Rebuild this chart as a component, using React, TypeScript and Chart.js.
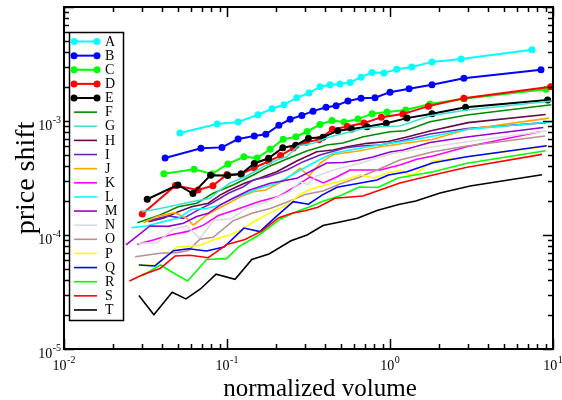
import React, { useEffect, useRef } from "react";
import { Chart, registerables } from "chart.js";
Chart.register(...registerables);

const NAMES = ["A","B","C","D","E","F","G","H","I","J","K","L","M","N","O","P","Q","R","S","T"];
const COLORS = ["#00ffff","#0000ff","#00ff00","#ff0000","#000000","#008b00","#40e0d0","#670748","#7221bc","#ffa500","#ff00ff","#00ffff","#9400d3","#dcdcdc","#bc8f8f","#ffff00","#0000ff","#00ff00","#ff0000","#000000"];
const WITH_MARKERS = [true,true,true,true,true,false,false,false,false,false,false,false,false,false,false,false,false,false,false,false];

const X_TICK_LABELS = [{ v: 0.01, e: "-2" }, { v: 0.1, e: "-1" }, { v: 1, e: "0" }, { v: 10, e: "1" }];
const Y_TICK_LABELS = [{ v: 1e-5, e: "-5" }, { v: 1e-4, e: "-4" }, { v: 1e-3, e: "-3" }];

const A_X = [0.0515,0.0869,0.117,0.155,0.189,0.224,0.268,0.318,0.372,0.429,0.493,0.569,0.664,0.776,0.918,1.10,1.36,1.81,2.73,7.43];
const A_Y = [7.85e-4,9.4e-4,9.8e-4,1.135e-3,1.28e-3,1.39e-3,1.60e-3,1.76e-3,2.00e-3,2.08e-3,2.11e-3,2.18e-3,2.42e-3,2.67e-3,2.64e-3,2.85e-3,2.98e-3,3.30e-3,3.50e-3,4.22e-3];
const B_X = [0.0417,0.0692,0.0931,0.117,0.147,0.173,0.208,0.244,0.288,0.337,0.405,0.467,0.552,0.664,0.809,1.0,1.31,1.81,2.84,8.44];
const B_Y = [4.73e-4,5.77e-4,5.87e-4,6.95e-4,7.38e-4,7.64e-4,9.16e-4,1.035e-3,1.12e-3,1.22e-3,1.32e-3,1.36e-3,1.50e-3,1.58e-3,1.60e-3,1.79e-3,1.92e-3,2.08e-3,2.37e-3,2.82e-3];
const C_X = [0.0410,0.0628,0.0809,0.1014,0.127,0.153,0.184,0.221,0.265,0.310,0.372,0.441,0.522,0.637,0.776,0.960,1.25,1.76,2.84,9.06];
const C_Y = [3.45e-4,3.77e-4,3.43e-4,4.20e-4,4.86e-4,4.73e-4,5.65e-4,6.90e-4,7.28e-4,8.09e-4,9.31e-4,1.01e-3,9.8e-4,1.04e-3,1.16e-3,1.20e-3,1.25e-3,1.41e-3,1.57e-3,1.90e-3];
const D_X = [0.0302,0.0483,0.0664,0.0820,0.100,0.122,0.147,0.180,0.213,0.255,0.305,0.366,0.443,0.547,0.692,0.885,1.20,1.72,2.84,9.68];
const D_Y = [1.53e-4,2.72e-4,2.48e-4,2.71e-4,3.40e-4,3.43e-4,3.89e-4,4.43e-4,4.97e-4,5.79e-4,6.50e-4,6.86e-4,8.45e-4,8.95e-4,9.59e-4,1.08e-3,1.15e-3,1.35e-3,1.58e-3,2.00e-3];
const E_X = [0.0324,0.0500,0.0618,0.0793,0.101,0.122,0.147,0.180,0.220,0.264,0.316,0.388,0.478,0.582,0.723,0.948,1.27,1.81,2.91,9.27];
const E_Y = [2.06e-4,2.75e-4,2.31e-4,3.35e-4,3.33e-4,3.43e-4,4.24e-4,4.71e-4,5.83e-4,6.12e-4,7.05e-4,7.20e-4,8.22e-4,8.51e-4,8.91e-4,9.55e-4,1.06e-3,1.16e-3,1.32e-3,1.53e-3];
const F_X = [0.0282,0.0388,0.0502,0.0652,0.0822,0.109,0.145,0.179,0.233,0.308,0.409,0.515,0.686,1.0,1.24,1.76,2.96,9.77];
const F_Y = [1.28e-4,1.50e-4,1.77e-4,1.90e-4,2.32e-4,2.75e-4,3.36e-4,3.97e-4,4.64e-4,5.46e-4,6.16e-4,6.41e-4,7.28e-4,8.05e-4,8.22e-4,9.86e-4,1.13e-3,1.39e-3];
const G_X = [0.0300,0.0388,0.0491,0.0607,0.0787,0.0906,0.104,0.132,0.167,0.202,0.233,0.273,0.338,0.429,0.569,0.703,0.869,1.15,1.76,2.96,9.91];
const G_Y = [1.60e-4,1.71e-4,1.83e-4,1.96e-4,2.10e-4,2.48e-4,2.84e-4,3.29e-4,3.97e-4,4.55e-4,4.86e-4,6.04e-4,6.37e-4,7.28e-4,8.05e-4,8.63e-4,8.91e-4,9.04e-4,1.11e-3,1.25e-3,1.50e-3];
const H_X = [0.0329,0.0406,0.0502,0.0607,0.0767,0.0906,0.104,0.129,0.159,0.202,0.268,0.355,0.447,0.545,0.723,0.972,1.27,1.76,3.01,9.02];
const H_Y = [1.31e-4,1.40e-4,1.60e-4,1.77e-4,1.90e-4,2.24e-4,2.48e-4,2.86e-4,3.16e-4,3.59e-4,4.46e-4,5.38e-4,5.57e-4,5.95e-4,6.37e-4,6.61e-4,7.24e-4,8.17e-4,9.67e-4,1.14e-3];
const I_X = [0.0329,0.0437,0.0540,0.0667,0.0805,0.102,0.126,0.145,0.179,0.233,0.294,0.372,0.530,0.655,0.869,1.15,1.76,2.98,9.02];
const I_Y = [1.33e-4,1.47e-4,1.40e-4,1.66e-4,1.90e-4,2.32e-4,2.65e-4,3.04e-4,3.25e-4,3.72e-4,4.40e-4,5.03e-4,5.79e-4,6.04e-4,6.16e-4,6.68e-4,7.69e-4,8.60e-4,9.67e-4];
const J_X = [0.0307,0.0371,0.0480,0.0566,0.0621,0.0749,0.0973,0.120,0.145,0.173,0.227,0.281,0.318,0.372,0.447,0.655,0.869,1.15,1.81,2.96,9.45];
const J_Y = [1.28e-4,1.45e-4,1.57e-4,1.40e-4,1.22e-4,1.50e-4,1.83e-4,2.15e-4,2.40e-4,2.48e-4,3.04e-4,3.85e-4,3.29e-4,4.26e-4,5.08e-4,5.49e-4,5.95e-4,6.28e-4,6.89e-4,8.42e-4,1.06e-3];
const K_X = [0.0281,0.0353,0.0447,0.0566,0.0716,0.0885,0.112,0.156,0.206,0.261,0.323,0.390,0.471,0.569,0.869,1.15,1.46,1.84,2.96,8.32];
const K_Y = [8.29e-5,9.04e-5,1.0e-4,1.07e-4,1.22e-4,1.48e-4,1.66e-4,1.96e-4,2.17e-4,2.64e-4,3.23e-4,2.86e-4,3.23e-4,3.72e-4,3.72e-4,4.11e-4,4.61e-4,4.93e-4,5.95e-4,8.05e-4];
const L_X = [0.0260,0.0321,0.0406,0.0502,0.0607,0.0749,0.0906,0.109,0.132,0.159,0.206,0.268,0.372,0.448,0.719,1.0,1.27,1.76,2.96,9.91];
const L_Y = [1.16e-4,1.20e-4,1.31e-4,1.40e-4,1.68e-4,1.71e-4,1.83e-4,2.10e-4,2.32e-4,2.57e-4,2.86e-4,3.57e-4,4.59e-4,5.21e-4,5.91e-4,6.37e-4,6.68e-4,7.28e-4,8.42e-4,9.86e-4];
const M_X = [0.0240,0.0337,0.0435,0.0540,0.0652,0.0767,0.0906,0.109,0.138,0.184,0.268,0.338,0.409,0.515,0.628,0.787,1.0,1.21,1.76,2.96,8.72];
const M_Y = [8.18e-5,1.20e-4,1.19e-4,1.27e-4,1.45e-4,1.55e-4,1.83e-4,2.10e-4,2.48e-4,2.84e-4,3.14e-4,3.72e-4,4.28e-4,4.33e-4,4.50e-4,4.83e-4,5.35e-4,5.57e-4,6.48e-4,7.24e-4,8.77e-4];
const N_X = [0.0284,0.0371,0.0473,0.0566,0.0682,0.0832,0.106,0.132,0.175,0.244,0.281,0.313,0.355,0.460,0.655,1.05,1.84,2.96,9.15];
const N_Y = [8.46e-5,8.56e-5,1.13e-4,1.20e-4,9.35e-5,1.35e-4,1.39e-4,1.71e-4,1.96e-4,2.40e-4,2.92e-4,2.77e-4,3.29e-4,3.76e-4,4.26e-4,5.21e-4,5.95e-4,6.58e-4,8.17e-4];
const O_X = [0.0273,0.0388,0.0491,0.058,0.0682,0.0822,0.109,0.142,0.184,0.233,0.301,0.388,0.493,0.655,0.832,1.15,1.84,2.97,8.94];
const O_Y = [6.45e-5,6.91e-5,7.0e-5,7.31e-5,9.17e-5,9.55e-5,1.33e-4,1.55e-4,1.71e-4,1.94e-4,2.27e-4,2.43e-4,2.80e-4,3.23e-4,3.72e-4,4.55e-4,5.38e-4,6.04e-4,7.38e-4];
const P_X = [0.0284,0.0361,0.0493,0.0682,0.0820,0.104,0.122,0.145,0.179,0.233,0.281,0.338,0.550,0.655,0.798,0.977,1.16,1.36,1.84,2.93,9.06];
const P_Y = [5.51e-5,5.40e-5,7.85e-5,8.09e-5,9.04e-5,1.0e-4,1.11e-4,1.30e-4,1.54e-4,1.83e-4,2.28e-4,2.57e-4,3.08e-4,3.36e-4,3.16e-4,3.53e-4,3.67e-4,3.31e-4,4.46e-4,4.83e-4,5.97e-4];
const Q_X = [0.0288,0.0361,0.0469,0.0580,0.0749,0.0959,0.127,0.159,0.200,0.255,0.316,0.383,0.473,0.646,0.832,0.977,1.27,1.84,2.96,9.15];
const Q_Y = [5.46e-5,5.35e-5,7.28e-5,7.58e-5,7.24e-5,7.85e-5,1.15e-4,1.07e-4,1.45e-4,1.96e-4,1.86e-4,2.24e-4,2.62e-4,2.84e-4,3.04e-4,3.36e-4,3.59e-4,4.31e-4,4.86e-4,6.07e-4];
const R_X = [0.0300,0.0391,0.0467,0.0573,0.0749,0.0993,0.119,0.157,0.214,0.273,0.323,0.383,0.500,0.646,0.843,1.12,1.84,2.97,9.02];
const R_Y = [4.37e-5,5.46e-5,4.67e-5,3.95e-5,6.10e-5,6.20e-5,7.96e-5,1.0e-4,1.39e-4,1.62e-4,1.77e-4,1.97e-4,2.22e-4,2.64e-4,2.61e-4,3.16e-4,3.59e-4,4.26e-4,5.49e-4];
const S_X = [0.0252,0.0306,0.0388,0.0480,0.0593,0.0767,0.100,0.129,0.163,0.208,0.254,0.301,0.361,0.460,0.682,0.869,1.15,1.84,2.97,8.57];
const S_Y = [3.95e-5,4.50e-5,5.08e-5,6.54e-5,6.64e-5,6.32e-5,8.26e-5,9.13e-5,1.08e-4,1.42e-4,1.56e-4,1.63e-4,1.75e-4,2.10e-4,2.20e-4,2.48e-4,2.86e-4,3.36e-4,3.93e-4,5.10e-4];
const T_X = [0.0288,0.0356,0.0461,0.0560,0.0687,0.0857,0.112,0.142,0.181,0.247,0.310,0.388,0.493,0.632,0.832,1.13,1.44,2.03,3.10,8.57];
const T_Y = [2.94e-5,2.0e-5,3.14e-5,2.75e-5,3.36e-5,4.53e-5,4.09e-5,6.10e-5,6.81e-5,8.9e-5,1.0e-4,1.21e-4,1.30e-4,1.40e-4,1.64e-4,1.85e-4,1.99e-4,2.34e-4,2.69e-4,3.38e-4];

const SERIES_X = [A_X,B_X,C_X,D_X,E_X,F_X,G_X,H_X,I_X,J_X,K_X,L_X,M_X,N_X,O_X,P_X,Q_X,R_X,S_X,T_X];
const SERIES_Y = [A_Y,B_Y,C_Y,D_Y,E_Y,F_Y,G_Y,H_Y,I_Y,J_Y,K_Y,L_Y,M_Y,N_Y,O_Y,P_Y,Q_Y,R_Y,S_Y,T_Y];

const FONT = "'Liberation Serif', 'Times New Roman', serif";

const decorPlugin = {
  id: "decor",
  afterDatasetsDraw(chart: any) {
    const ctx = chart.ctx as CanvasRenderingContext2D;
    const xs = chart.scales.x;
    const ys = chart.scales.y;
    const { left, right, top, bottom } = chart.chartArea;
    ctx.save();
    // ticks
    ctx.strokeStyle = "#000";
    ctx.lineWidth = 1.5;
    ctx.beginPath();
    for (let d = -2; d <= 1; d++) {
      for (let m = 1; m <= 9; m++) {
        const v = m * Math.pow(10, d);
        if (v < 0.01 - 1e-12 || v > 10 + 1e-9) continue;
        const px = Math.round(xs.getPixelForValue(v)) + 0.5;
        const len = m === 1 ? 10 : 5;
        ctx.moveTo(px, bottom); ctx.lineTo(px, bottom - len);
        ctx.moveTo(px, top); ctx.lineTo(px, top + len);
      }
    }
    for (let d = -5; d <= -2; d++) {
      for (let m = 1; m <= 9; m++) {
        const v = m * Math.pow(10, d);
        if (v > 1e-2 * 1.0001) continue;
        const py = Math.round(ys.getPixelForValue(v)) + 0.5;
        const len = m === 1 ? 10 : 5;
        ctx.moveTo(left, py); ctx.lineTo(left + len, py);
        ctx.moveTo(right, py); ctx.lineTo(right - len, py);
      }
    }
    ctx.stroke();
    // frame
    ctx.lineWidth = 2;
    ctx.strokeRect(left, top, right - left, bottom - top);

    // tick labels
    ctx.fillStyle = "#000";
    ctx.textBaseline = "alphabetic";
    const drawPow = (xRight: number | null, xCenter: number | null, base: number, e: string) => {
      ctx.font = `14px ${FONT}`;
      const w1 = ctx.measureText("10").width;
      ctx.font = `10px ${FONT}`;
      const w2 = ctx.measureText(e).width;
      const total = w1 + w2 + 0.5;
      const x0 = xRight !== null ? xRight - total : (xCenter as number) - total / 2;
      ctx.font = `14px ${FONT}`;
      ctx.textAlign = "left";
      ctx.fillText("10", x0, base);
      ctx.font = `10px ${FONT}`;
      ctx.fillText(e, x0 + w1 + 0.5, base - 7);
    };
    for (const t of X_TICK_LABELS) {
      drawPow(null, xs.getPixelForValue(t.v), bottom + 21, t.e);
    }
    for (const t of Y_TICK_LABELS) {
      drawPow(left - 3, null, ys.getPixelForValue(t.v) + 9, t.e);
    }

    // axis titles
    ctx.font = `25px ${FONT}`;
    ctx.textAlign = "center";
    ctx.textBaseline = "alphabetic";
    ctx.fillText("normalized volume", 320, 396);
    ctx.save();
    ctx.font = `28px ${FONT}`;
    ctx.translate(34, 178);
    ctx.rotate(-Math.PI / 2);
    ctx.fillText("price shift", 0, 0);
    ctx.restore();

    // legend
    const lx = 69.5, ly = 32.5, lw = 54, lh = 288;
    ctx.fillStyle = "#fff";
    ctx.fillRect(lx, ly, lw, lh);
    ctx.strokeStyle = "#000";
    ctx.lineWidth = 1.5;
    ctx.strokeRect(lx, ly, lw, lh);
    chart.data.datasets.forEach((ds: any, i: number) => {
      const y = 41.5 + i * 14.13;
      ctx.strokeStyle = ds.borderColor;
      ctx.lineWidth = ds.borderWidth;
      ctx.beginPath();
      ctx.moveTo(74, y);
      ctx.lineTo(97, y);
      ctx.stroke();
      if (ds.pointRadius > 0) {
        ctx.fillStyle = ds.borderColor;
        for (const px of [74, 97]) {
          ctx.beginPath();
          ctx.arc(px, y, 3.5, 0, Math.PI * 2);
          ctx.fill();
        }
      }
      ctx.fillStyle = "#000";
      ctx.font = `14px ${FONT}`;
      ctx.textAlign = "left";
      ctx.textBaseline = "middle";
      ctx.fillText(ds.label, 105, y + 0.5);
    });
    ctx.restore();
  },
};

export default function App() {
  const ref = useRef<HTMLCanvasElement | null>(null);
  useEffect(() => {
    if (!ref.current) return;
    const datasets = NAMES.map((name, i) => ({
      label: name,
      data: SERIES_X[i].map((x, k) => ({ x, y: SERIES_Y[i][k] })),
      borderColor: COLORS[i],
      backgroundColor: COLORS[i],
      borderWidth: WITH_MARKERS[i] ? 2 : 1.6,
      pointRadius: WITH_MARKERS[i] ? 3.5 : 0,
      pointHoverRadius: 0,
      pointBorderWidth: 0,
      pointBackgroundColor: COLORS[i],
      tension: 0,
      fill: false,
      order: -i,
    }));
    const chart = new Chart(ref.current, {
      type: "line",
      data: { datasets },
      options: {
        responsive: false,
        animation: false,
        devicePixelRatio: 1,
        layout: { padding: { left: 64, right: 9, top: 7, bottom: 51 } },
        plugins: { legend: { display: false }, tooltip: { enabled: false } },
        events: [],
        scales: {
          x: { type: "logarithmic", min: 0.01, max: 10, display: false },
          y: { type: "logarithmic", min: 1e-5, max: 1e-2, display: false },
        },
      } as any,
      plugins: [decorPlugin],
    });
    return () => chart.destroy();
  }, []);
  return (
    <div style={{ position: "fixed", left: 0, top: 0, width: 562, height: 400, background: "#fff" }}>
      <canvas ref={ref} width={562} height={400} />
    </div>
  );
}
